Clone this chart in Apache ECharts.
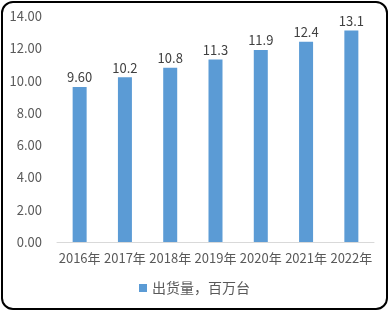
<!DOCTYPE html>
<html><head><meta charset="utf-8">
<script src="https://cdn.jsdelivr.net/npm/echarts@6/dist/echarts.min.js"></script>
<style>
html,body{margin:0;padding:0;background:#fff;}
#wrap{position:absolute;left:1px;top:1px;width:387px;height:309px;border:2px solid #000;border-radius:12px;box-sizing:border-box;}
#c{position:absolute;left:0;top:0;width:389px;height:311px;}
</style>
</head><body>
<div id="wrap"></div>
<div id="c"></div>
<script>
const categories = ['2016年','2017年','2018年','2019年','2020年','2021年','2022年'];
const values = [9.60, 10.2, 10.8, 11.3, 11.9, 12.4, 13.1];
const labels = ['9.60','10.2','10.8','11.3','11.9','12.4','13.1'];
const seriesName = '出货量，百万台';
const font = '"Noto Sans CJK SC", "Noto Sans", sans-serif';
const chart = echarts.init(document.getElementById('c'), null, {renderer:'canvas'});
chart.setOption({
  animation:false,
  textStyle:{fontFamily:font},
  grid:{left:57, right:15, top:16, bottom:69, containLabel:false},
  legend:{
    bottom:11, left:'center', itemWidth:8, itemHeight:8, icon:'rect', itemGap:6,
    textStyle:{color:'#595959', fontSize:14, fontFamily:font},
    data:[seriesName]
  },
  xAxis:{
    type:'category', data:categories,
    axisLine:{lineStyle:{color:'#d9d9d9', width:1}},
    axisTick:{show:false},
    axisLabel:{color:'#595959', fontSize:13, margin:10, fontFamily:font, interval:0}
  },
  yAxis:{
    type:'value', min:0, max:14, interval:2,
    axisLine:{show:false}, axisTick:{show:false},
    splitLine:{show:false},
    axisLabel:{color:'#595959', fontSize:13, margin:15, fontFamily:font, formatter:v=>v.toFixed(2)}
  },
  series:[{
    name:seriesName, type:'bar', data:values, barWidth:14,
    itemStyle:{color:'#5B9BD5'},
    label:{show:true, position:'top', distance:3, color:'#404040', fontSize:13, fontFamily:font,
      formatter:p=>labels[p.dataIndex]}
  }]
});
</script>
</body></html>
